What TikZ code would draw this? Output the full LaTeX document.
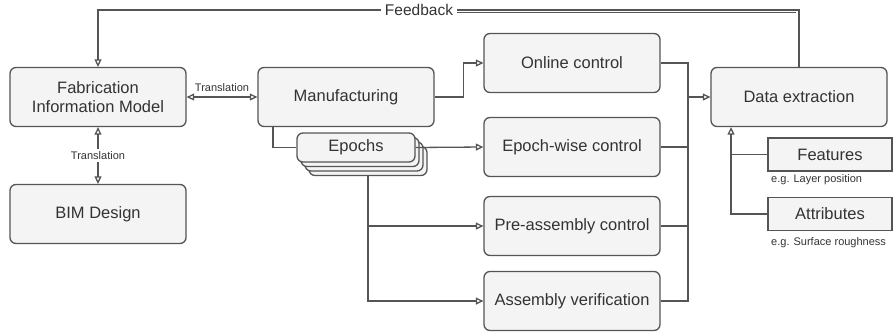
\documentclass[tikz,border=0pt]{standalone}
\usepackage{fontspec}
\setmainfont{Liberation Sans}
\usetikzlibrary{arrows.meta, positioning, calc}

\definecolor{boxfill}{HTML}{F4F4F4}
\definecolor{linegray}{HTML}{555555}
\definecolor{textgray}{HTML}{333333}

\begin{document}
\begin{tikzpicture}[x=1pt, y=-1pt,
  box/.style={draw=linegray, fill=boxfill, line width=1.3pt, rounded corners=6pt,
    minimum width=176pt, minimum height=59pt, inner sep=0pt, align=center,
    text=textgray, font=\fontsize{16.5}{19.5}\selectfont},
  flatbox/.style={box, rounded corners=0pt, minimum width=124pt, minimum height=33pt},
  stackbox/.style={box, minimum width=118pt, minimum height=29pt},
  note/.style={text=textgray, inner sep=0pt, font=\fontsize{11}{13}\selectfont},
  link/.style={draw=linegray, line width=1.3pt},
  tip/.style={-{Triangle[open, length=7.5pt, width=7pt]}},
  both/.style={{Triangle[open, length=7.5pt, width=7pt]}-{Triangle[open, length=7.5pt, width=7pt]}}]
\useasboundingbox (0,0) rectangle (894,333);

% left column
\node[box] (fim) at (98,97) {Fabrication\\Information Model};
\node[box] (bim) at (98,214) {BIM Design};

% manufacturing and epochs
\node[box] (manu) at (346,97) {Manufacturing};
\foreach \k in {3,2,1}
  \node[stackbox] (epoch\k) at (356+4*\k,147.5+4.5*\k) {};
\node[stackbox] (epoch) at (356,147.5) {Epochs};

% controls
\node[box] (online) at (572,63) {Online control};
\node[box] (ewise) at (572,147) {Epoch-wise control};
\node[box] (pre) at (572,226) {Pre-assembly control};
\node[box] (asmv) at (572,301) {Assembly verification};

% data extraction
\node[box] (dext) at (799,97) {Data extraction};
\node[flatbox] (feat) at (830,154.5) {Features};
\node[note, anchor=west] (featnote) at (771,180) {e.g. Layer position};
\node[flatbox] (attr) at (830,214) {Attributes};
\node[note, anchor=west] (attrnote) at (771,243) {e.g. Surface roughness};

\coordinate (split) at (368,176);
\coordinate (bus) at (688,97);
\coordinate (dextin) at ([xshift=-68pt]dext.south);

% connectors
\draw[link, both] (fim.east) -- node[note, above=5pt] {Translation} (manu.west);
\draw[link, both] (fim.south) -- node[note, fill=white, inner sep=2pt] {Translation} (bim.north);
\draw[link, tip] (manu.east) -- ++(29,0) |- (online.west);
\draw[link] ([xshift=-73pt]manu.south) |- (epoch.west);
\draw[link, tip] (epoch.east) -- (ewise.west);
\draw[link, tip] (split) |- (asmv.west);
\draw[link, tip] (split |- pre.west) -- (pre.west);
\draw[link] (online.east) -| (bus |- asmv.east) -- (asmv.east);
\draw[link] (ewise.east) -- (ewise.east -| bus);
\draw[link] (pre.east) -- (pre.east -| bus);
\draw[link, tip] (bus) -- (dext.west);
\draw[link, tip] (attr.west) -| (dextin);
\draw[link] (feat.west) -- (feat.west -| dextin);

% feedback
\node[text=textgray, inner sep=4pt, font=\fontsize{15.5}{18}\selectfont] (fbl) at (419,10) {Feedback};
\draw[link] (dext.north) |- (fbl.east);
\draw[draw=linegray, line width=0.7pt] ([yshift=-2.4pt]fbl.east) -- ([xshift=-3pt, yshift=-2.4pt]fbl.east -| dext.north);
\draw[link, tip] (fbl.west) -| (fim.north);
\end{tikzpicture}
\end{document}
